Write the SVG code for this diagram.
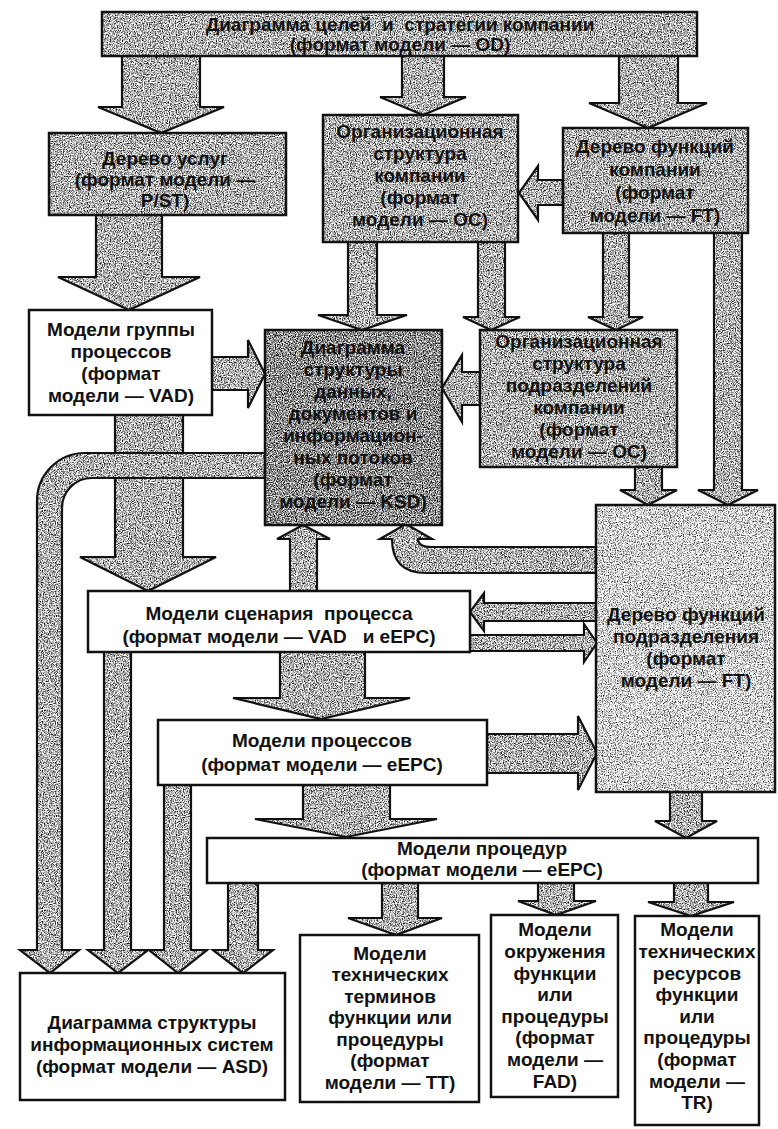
<svg xmlns="http://www.w3.org/2000/svg" width="778" height="1129" viewBox="0 0 778 1129">
  <style>
    .box { stroke: #111; stroke-width: 2.5; }
    .gray { fill: url(#fillMid); }
    .dark { fill: url(#fillDark); }
    .light { fill: url(#fillLight); }
    .white { fill: #fff; }
    .arr { fill: url(#fillArrow); stroke: #111; stroke-width: 2.2; stroke-linejoin: miter; }
    text { font-family: "Liberation Sans", Arial, sans-serif; font-weight: bold; font-size: 19px; text-anchor: middle; fill: #111; }
  </style>
  <defs>
    <!-- halftone-like grain for the shaded shapes -->
    <filter id="grainMid" x="0" y="0" width="100%" height="100%" color-interpolation-filters="sRGB">
      <feTurbulence type="fractalNoise" baseFrequency="0.85" numOctaves="2" seed="4" stitchTiles="stitch"/>
      <feColorMatrix type="matrix" values="2.4 0 0 0 -0.5  2.4 0 0 0 -0.5  2.4 0 0 0 -0.5  0 0 0 0 1"/>
    </filter>
    <filter id="grainDark" x="0" y="0" width="100%" height="100%" color-interpolation-filters="sRGB">
      <feTurbulence type="fractalNoise" baseFrequency="0.85" numOctaves="2" seed="9" stitchTiles="stitch"/>
      <feColorMatrix type="matrix" values="2.4 0 0 0 -0.65  2.4 0 0 0 -0.65  2.4 0 0 0 -0.65  0 0 0 0 1"/>
    </filter>
    <filter id="grainLight" x="0" y="0" width="100%" height="100%" color-interpolation-filters="sRGB">
      <feTurbulence type="fractalNoise" baseFrequency="0.85" numOctaves="2" seed="2" stitchTiles="stitch"/>
      <feColorMatrix type="matrix" values="2.4 0 0 0 -0.35  2.4 0 0 0 -0.35  2.4 0 0 0 -0.35  0 0 0 0 1"/>
    </filter>
    <pattern id="fillMid" patternUnits="userSpaceOnUse" width="200" height="200">
      <rect width="200" height="200" filter="url(#grainMid)"/>
    </pattern>
    <pattern id="fillDark" patternUnits="userSpaceOnUse" width="200" height="200">
      <rect width="200" height="200" filter="url(#grainDark)"/>
    </pattern>
    <pattern id="fillLight" patternUnits="userSpaceOnUse" width="200" height="200">
      <rect width="200" height="200" filter="url(#grainLight)"/>
    </pattern>
    <pattern id="fillArrow" patternUnits="userSpaceOnUse" width="200" height="200">
      <rect width="200" height="200" filter="url(#grainMid)"/>
    </pattern>
  </defs>

  <!-- block arrows -->
  <g id="connectors">
    <polygon class="arr" points="122,56 200,56 200,107 224,107 161,133 98,107 122,107"/>
    <polygon class="arr" points="402,56 444,56 444,97 466,97 423,115 380,97 402,97"/>
    <polygon class="arr" points="619,56 678,56 678,103 707,103 648,128 589,103 619,103"/>
    <polygon class="arr" points="563,180 538,180 538,166 519,193 538,220 538,205 563,205"/>
    <polygon class="arr" points="96,215 162,215 162,277 200,277 129,310 58,277 96,277"/>
    <polygon class="arr" points="348,242 377,242 377,315 407,315 362,330 318,315 348,315"/>
    <polygon class="arr" points="478,242 505,242 505,317 520,317 491,330 463,317 478,317"/>
    <polygon class="arr" points="603,233 629,233 629,317 643,317 616,330 588,317 603,317"/>
    <polygon class="arr" points="714,233 742,233 742,490 758,490 728,505 698,490 714,490"/>
    <polygon class="arr" points="212,357 248,357 248,340 265,374 248,408 248,390 212,390"/>
    <polygon class="arr" points="480,372 462,372 462,355 442,388 462,422 462,405 480,405"/>
    <polygon class="arr" points="635,467 662,467 662,490 677,490 648,505 620,490 635,490"/>
    <polygon class="arr" points="115,415 183,415 183,557 216,557 148,591 80,557 115,557"/>
    <!-- pipe from the data diagram bending down to the IS diagram -->
    <path class="arr" d="M265,453 L85,453 A48,48 0 0 0 37,501 L37,950 L20,950 L50,973 L79,950 L62,950 L62,508 A30,30 0 0 1 92,478 L265,478 Z"/>
    <polygon class="arr" points="290,591 290,539 277,539 303,525 330,539 317,539 317,591"/>
    <!-- pipe from the department function tree up to the data diagram -->
    <path class="arr" d="M596,547 L432,547 Q418,547 418,539 L432,539 L406,524 L380,539 L392,539 Q392,573 426,573 L596,573 Z"/>
    <polygon class="arr" points="596,603 484,603 484,593 470,612 484,631 484,621 596,621"/>
    <polygon class="arr" points="470,635 584,635 584,624 597,643 584,662 584,651 470,651"/>
    <polygon class="arr" points="280,652 365,652 365,698 410,698 321,719 233,698 280,698"/>
    <polygon class="arr" points="487,734 578,734 578,716 597,753 578,790 578,773 487,773"/>
    <polygon class="arr" points="303,785 390,785 390,819 437,819 346,837 255,819 303,819"/>
    <polygon class="arr" points="670,792 702,792 702,821 717,821 686,838 655,821 670,821"/>
    <polygon class="arr" points="104,652 131,652 131,950 148,950 118,973 88,950 104,950"/>
    <polygon class="arr" points="164,785 191,785 191,950 207,950 178,973 149,950 164,950"/>
    <polygon class="arr" points="228,883 258,883 258,950 273,950 243,973 213,950 228,950"/>
    <polygon class="arr" points="382,883 418,883 418,918 442,918 396,935 348,918 382,918"/>
    <polygon class="arr" points="538,883 574,883 574,901 596,901 556,915 518,901 538,901"/>
    <polygon class="arr" points="674,883 708,883 708,902 734,902 691,916 648,902 674,902"/>
  </g>

  <g id="goals-od">
    <rect class="box gray" x="102" y="12" width="595" height="44"/>
    <text xml:space="preserve"><tspan x="400" y="31">Диаграмма целей  и  стратегии компании</tspan><tspan x="400" y="51">(формат модели — OD)</tspan></text>
  </g>

  <g id="services-pst">
    <rect class="box gray" x="49" y="133" width="237" height="82"/>
    <text><tspan x="165" y="165">Дерево услуг</tspan><tspan x="165" y="186">(формат модели —</tspan><tspan x="165" y="207">P/ST)</tspan></text>
  </g>

  <g id="org-company-oc">
    <rect class="box gray" x="323" y="115" width="195" height="127"/>
    <text><tspan x="420" y="138">Организационная</tspan><tspan x="420" y="160">структура</tspan><tspan x="420" y="182">компании</tspan><tspan x="420" y="204">(формат</tspan><tspan x="420" y="226">модели — OC)</tspan></text>
  </g>

  <g id="functions-company-ft">
    <rect class="box gray" x="563" y="128" width="185" height="105"/>
    <text><tspan x="655" y="153">Дерево функций</tspan><tspan x="655" y="176">компании</tspan><tspan x="655" y="199">(формат</tspan><tspan x="655" y="222">модели — FT)</tspan></text>
  </g>

  <g id="process-groups-vad">
    <rect class="box white" x="29" y="310" width="183" height="105"/>
    <text><tspan x="121" y="336">Модели группы</tspan><tspan x="121" y="358">процессов</tspan><tspan x="121" y="380">(формат</tspan><tspan x="121" y="402">модели — VAD)</tspan></text>
  </g>

  <g id="data-ksd">
    <rect class="box dark" x="265" y="330" width="177" height="195"/>
    <text><tspan x="353" y="354">Диаграмма</tspan><tspan x="353" y="376">структуры</tspan><tspan x="353" y="398">данных,</tspan><tspan x="353" y="420">документов и</tspan><tspan x="353" y="442">информацион-</tspan><tspan x="353" y="464">ных потоков</tspan><tspan x="353" y="486">(формат</tspan><tspan x="353" y="508">модели — KSD)</tspan></text>
  </g>

  <g id="org-departments-oc">
    <rect class="box gray" x="480" y="330" width="197" height="137"/>
    <text><tspan x="579" y="348">Организационная</tspan><tspan x="579" y="370">структура</tspan><tspan x="579" y="392">подразделений</tspan><tspan x="579" y="414">компании</tspan><tspan x="579" y="436">(формат</tspan><tspan x="579" y="458">модели — OC)</tspan></text>
  </g>

  <g id="functions-department-ft">
    <rect class="box light" x="596" y="505" width="179" height="287"/>
    <text><tspan x="686" y="621">Дерево функций</tspan><tspan x="686" y="643">подразделения</tspan><tspan x="686" y="665">(формат</tspan><tspan x="686" y="687">модели — FT)</tspan></text>
  </g>

  <g id="scenario-vad-eepc">
    <rect class="box white" x="88" y="591" width="382" height="61"/>
    <text xml:space="preserve"><tspan x="279" y="620">Модели сценария  процесса</tspan><tspan x="279" y="643">(формат модели — VAD   и eEPC)</tspan></text>
  </g>

  <g id="processes-eepc">
    <rect class="box white" x="158" y="720" width="329" height="65"/>
    <text><tspan x="322" y="747">Модели процессов</tspan><tspan x="322" y="771">(формат модели — eEPC)</tspan></text>
  </g>

  <g id="procedures-eepc">
    <rect class="box white" x="207" y="838" width="551" height="45"/>
    <text><tspan x="482" y="855">Модели процедур</tspan><tspan x="482" y="876">(формат модели — eEPC)</tspan></text>
  </g>

  <g id="systems-asd">
    <rect class="box white" x="20" y="973" width="265" height="127"/>
    <text><tspan x="152" y="1029">Диаграмма структуры</tspan><tspan x="152" y="1051">информационных систем</tspan><tspan x="152" y="1073">(формат модели — ASD)</tspan></text>
  </g>

  <g id="terms-tt">
    <rect class="box white" x="300" y="935" width="179" height="167"/>
    <text><tspan x="390" y="960">Модели</tspan><tspan x="390" y="981">технических</tspan><tspan x="390" y="1003">терминов</tspan><tspan x="390" y="1024">функции или</tspan><tspan x="390" y="1046">процедуры</tspan><tspan x="390" y="1067">(формат</tspan><tspan x="390" y="1089">модели — TT)</tspan></text>
  </g>

  <g id="environment-fad">
    <rect class="box white" x="491" y="915" width="127" height="182"/>
    <text><tspan x="555" y="936">Модели</tspan><tspan x="555" y="958">окружения</tspan><tspan x="555" y="980">функции</tspan><tspan x="555" y="1001">или</tspan><tspan x="555" y="1023">процедуры</tspan><tspan x="555" y="1044">(формат</tspan><tspan x="555" y="1066">модели —</tspan><tspan x="555" y="1088">FAD)</tspan></text>
  </g>

  <g id="resources-tr">
    <rect class="box white" x="635" y="916" width="124" height="209"/>
    <text><tspan x="697" y="936">Модели</tspan><tspan x="697" y="958">технических</tspan><tspan x="697" y="980">ресурсов</tspan><tspan x="697" y="1001">функции</tspan><tspan x="697" y="1023">или</tspan><tspan x="697" y="1044">процедуры</tspan><tspan x="697" y="1066">(формат</tspan><tspan x="697" y="1088">модели —</tspan><tspan x="697" y="1109">TR)</tspan></text>
  </g>
</svg>
